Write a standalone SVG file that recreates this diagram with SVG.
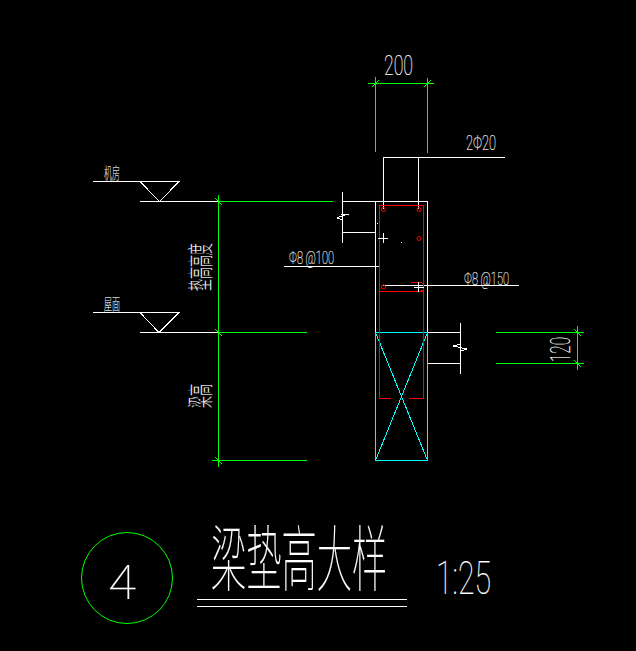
<svg xmlns="http://www.w3.org/2000/svg" width="636" height="651" viewBox="0 0 636 651">
<style>
.w{stroke:#fff;stroke-width:1;fill:none;shape-rendering:crispEdges}
.g{stroke:#0f0;stroke-width:1;fill:none;shape-rendering:crispEdges}
.r{stroke:#f00;stroke-width:1;fill:none;shape-rendering:crispEdges}
.c{stroke:#0ff;stroke-width:1;fill:none;shape-rendering:crispEdges}
.b{stroke:#f00;stroke-width:1;fill:none}
.t{fill:#fff;stroke:#fff;stroke-width:.2;font-family:"Roboto","Liberation Sans",sans-serif;font-weight:100}
.z{fill:#fff;stroke:#fff;stroke-width:.2;font-family:"Noto Sans CJK SC",sans-serif;font-weight:100}
</style>
<rect width="636" height="651" fill="#000"/>
<g id="connectors">
<path class="g" d="M368 83.500H434M375.500 77V152M427.500 78V153M372 87L379 80M424 87L431 80"/>
<path class="w" d="M383.500 209V157.500H505M418.500 157.500V209"/>
<path class="w" d="M284 266.500H379M383 285.500H519"/>
<path class="w" d="M342.500 192V243M342.500 201.500H375M342.500 232.500H375M342.500 213L342 214.500L349 214L343 215.500L337 218L342.500 220"/>
<path class="w" d="M460.500 323V374M427 332.500H460.500M427 363.500H460.500M460.500 344L453 346L467 349L460.500 351"/>
<path class="g" d="M496 332.500H584M496 363.500H584M577.500 326V370M574 329L581 336M574 360L581 367"/>
<path class="w" d="M93 181.500H179L159.500 201.500L140 181.500M140 201.500H218"/>
<path class="w" d="M93 312.500H179L159 332.500L140 312.500M140 332.500H218"/>
<path class="g" d="M218 201.500H333M218.500 195V467M218 332.500H307M212 460.500H307M215 198L222 205M215 329L222 336M215 457L222 464"/>
</g>
<g id="column">
<rect class="w" x="375.500" y="201.500" width="52" height="131"/>
<rect class="c" x="375.500" y="332.500" width="52" height="128"/>
<path class="c" d="M375.500 332.500L427.500 460.500M427.500 332.500L375.500 460.500"/>
<path class="r" d="M391 398.500H379.500V205.500H423.500V398.500H409M379.500 291.500H423.500M411 282.500H420Q424 283 424 287Q424 290 421 291.500"/>
<circle class="b" cx="383.500" cy="209.500" r="2"/>
<circle class="b" cx="419" cy="209.500" r="2"/>
<circle class="b" cx="419" cy="238.500" r="2"/>
<circle class="b" cx="383.500" cy="287" r="2"/>
<path class="w" d="M378 238.500H388M383.500 233V243M414 287.500H424M418.500 282V292M377 223.500H378M401 242.500H402"/>
</g>
<g id="labels">
<text class="t" x="384" y="75" font-size="27" textLength="29" lengthAdjust="spacingAndGlyphs">200</text>
<text class="t" x="466" y="150" font-size="20" textLength="30" lengthAdjust="spacingAndGlyphs">2Φ20</text>
<text class="t" x="289" y="264" font-size="19" textLength="45" lengthAdjust="spacingAndGlyphs">Φ8 @100</text>
<text class="t" x="464" y="285" font-size="19" textLength="45" lengthAdjust="spacingAndGlyphs">Φ8 @150</text>
<text class="t" transform="translate(570 362) rotate(-90)" font-size="27" textLength="25" lengthAdjust="spacingAndGlyphs">120</text>
<text class="z" x="104" y="179" font-size="16" textLength="16" lengthAdjust="spacingAndGlyphs">机房</text>
<text class="z" x="104" y="310" font-size="16" textLength="16" lengthAdjust="spacingAndGlyphs">屋面</text>
<text class="z" transform="translate(210 291) rotate(-90) scale(.46 1)" font-size="26">垫高高度</text>
<text class="z" transform="translate(210 408) rotate(-90) scale(.46 1)" font-size="26">梁高</text>
</g>
<g id="title">
<circle cx="127" cy="578" r="45.500" fill="none" stroke="#0f0"/>
<text class="t" x="108" y="599" font-size="48" textLength="28" lengthAdjust="spacingAndGlyphs" stroke-width="0">4</text>
<text class="z" transform="translate(211 585) scale(.49 1)" font-size="72">梁垫高大样</text>
<path class="w" d="M197 599.500H407M197 606.500H407"/>
<text class="t" x="436" y="594" font-size="46" textLength="55" lengthAdjust="spacingAndGlyphs">1:25</text>
</g>
</svg>
